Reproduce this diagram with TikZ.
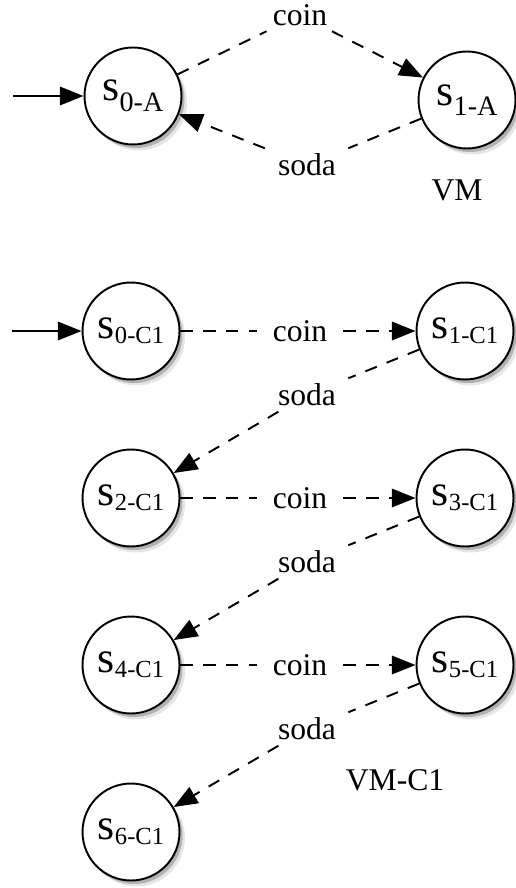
\documentclass[tikz,border=0pt]{standalone}
\usepackage{fontspec}
\setmainfont{Liberation Serif}
\usetikzlibrary{arrows.meta}

% state name: big s, lowered index
\newcommand{\sname}[3][3pt]{{\fontsize{25}{27}\selectfont s}\raisebox{-#1}{\fontsize{#2}{17}\selectfont #3}}

\begin{document}
\begin{tikzpicture}[x=0.02cm, y=-0.02cm,
    state/.style={circle, draw, line width=1.1pt, fill=white, minimum size=1.94cm, inner sep=0pt,
        preaction={fill=black!10, transform canvas={xshift=1.1mm, yshift=-1.2mm}},
        preaction={fill=black!30, transform canvas={xshift=0.6mm, yshift=-0.7mm}}},
    trans/.style={line width=1.1pt, dash pattern=on 7pt off 6pt,
        -{Triangle[length=13.5pt,width=10.5pt]}},
    init/.style={line width=1.1pt, -{Triangle[length=13.5pt,width=10.5pt]}},
    lbl/.style={font=\fontsize{18}{20}\selectfont, inner xsep=9pt, inner ysep=3pt},
    ]
    \useasboundingbox (0,0) rectangle (515,888);

    % VM
    \node[state] (s0A) at (133,96) {\sname[6pt]{16}{0-A}};
    \node[state] (s1A) at (467,100) {\sname[6pt]{16}{1-A}};
    \node[lbl] (coinA) at (300,15) {coin};
    \node[lbl] (sodaA) at (307,165) {soda};
    \node[lbl] (vm) at (457,190) {VM};
    \coordinate (initA) at (13,96);

    \draw[init] (initA) -- (s0A);
    \draw[trans] (s0A) -- (coinA) -- (s1A);
    \draw[trans] (s1A) -- (sodaA) -- (s0A);

    % VM-C1
    \node[state] (s0C1) at (131,331) {\sname{14}{0-C1}};
    \node[state] (s1C1) at (465,331) {\sname{14}{1-C1}};
    \node[state] (s2C1) at (131,498) {\sname{14}{2-C1}};
    \node[state] (s3C1) at (465,498) {\sname{14}{3-C1}};
    \node[state] (s4C1) at (131,665) {\sname{14}{4-C1}};
    \node[state] (s5C1) at (465,665) {\sname{14}{5-C1}};
    \node[state] (s6C1) at (131,832) {\sname{14}{6-C1}};
    \node[lbl] (coin1) at (300,331) {coin};
    \node[lbl] (coin2) at (300,498) {coin};
    \node[lbl] (coin3) at (300,665) {coin};
    \node[lbl] (soda1) at (307,395) {soda};
    \node[lbl] (soda2) at (307,562) {soda};
    \node[lbl] (soda3) at (307,729) {soda};
    \node[lbl] (vmc1) at (395,780) {VM-C1};
    \coordinate (initC1) at (12,331);

    \draw[init] (initC1) -- (s0C1);
    \draw[trans] (s0C1) -- (coin1) -- (s1C1);
    \draw[trans] (s1C1) -- (soda1) -- (s2C1);
    \draw[trans] (s2C1) -- (coin2) -- (s3C1);
    \draw[trans] (s3C1) -- (soda2) -- (s4C1);
    \draw[trans] (s4C1) -- (coin3) -- (s5C1);
    \draw[trans] (s5C1) -- (soda3) -- (s6C1);
\end{tikzpicture}
\end{document}
